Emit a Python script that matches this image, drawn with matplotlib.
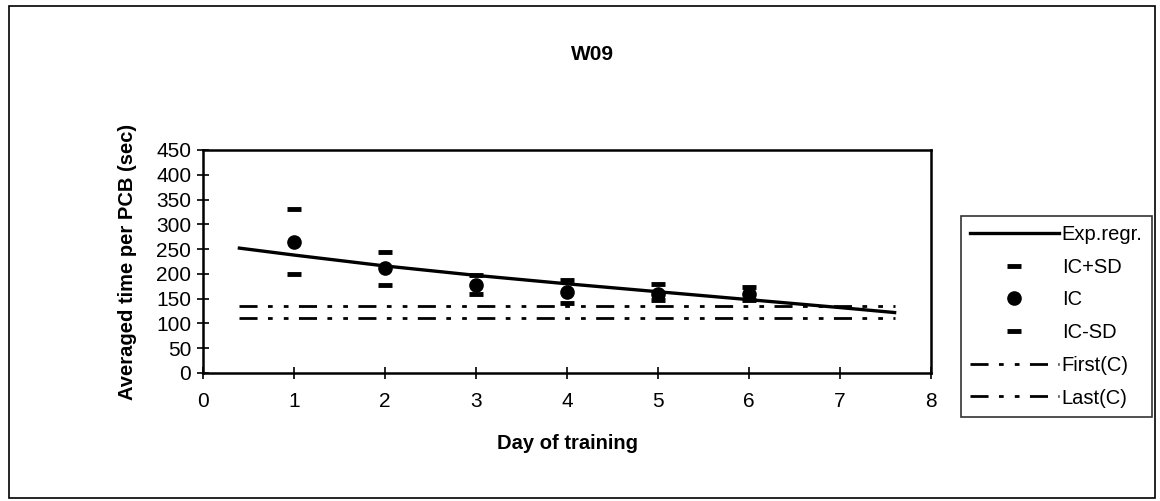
import matplotlib
matplotlib.use("Agg")
import matplotlib.pyplot as plt
from matplotlib.patches import Rectangle

# ---- Daten ----
days = [1, 2, 3, 4, 5, 6]
ic = [265, 211, 178, 164, 159, 160]
ic_plus_sd = [331, 244, 198, 187, 179, 174]
ic_minus_sd = [199, 177, 160, 142, 147, 147]

regr_x = [0.4, 1, 2, 3, 4, 5, 6, 7, 7.6]
regr_y = [252, 238, 216, 197, 180, 164, 148, 132, 122]

ctrl_x = [0.4, 7.6]
first_c = [135, 135]
last_c = [110, 110]

x_ticks = [0, 1, 2, 3, 4, 5, 6, 7, 8]
y_ticks = [0, 50, 100, 150, 200, 250, 300, 350, 400, 450]

# ---- Stil ----
plt.rcParams["font.family"] = ["Liberation Sans", "DejaVu Sans"]
plt.rcParams["lines.scale_dashes"] = False
dash_dot_dot = (0, (13, 7.5, 3.4, 8, 3.4, 7.5))

fig = plt.figure(figsize=(11.6, 5.01), dpi=100)
ax = fig.add_axes([0.175, 0.2555, 0.6276, 0.4451])

ax.plot(regr_x, regr_y, color="black", lw=2.4, label="Exp.regr.")
ax.plot(days, ic_plus_sd, ls="none", marker="_", ms=10, mew=3.5,
        color="black", label="IC+SD")
ax.plot(days, ic, ls="none", marker="o", ms=9.5, color="black", label="IC")
ax.plot(days, ic_minus_sd, ls="none", marker="_", ms=10, mew=3.5,
        color="black", label="IC-SD")
ax.plot(ctrl_x, first_c, color="black", lw=2, linestyle=dash_dot_dot,
        label="First(C)")
ax.plot(ctrl_x, last_c, color="black", lw=2, linestyle=dash_dot_dot,
        label="Last(C)")

ax.set_xlim(0, 8)
ax.set_ylim(0, 450)
ax.set_xticks(x_ticks)
ax.set_yticks(y_ticks)
ax.tick_params(direction="inout", length=9, width=1.2, labelsize=15, colors="black")
ax.tick_params(axis="x", pad=9)
ax.tick_params(axis="y", pad=4)
for s in ax.spines.values():
    s.set_linewidth(1.8)
    s.set_color("black")

ax.set_xlabel("Day of training", fontsize=14.5, fontweight="bold", labelpad=17)
ax.set_ylabel("Averaged time per PCB (sec)", fontsize=14.5, fontweight="bold", labelpad=14)

fig.text(592 / 1160, 1 - 55 / 501, "W09", fontsize=15, fontweight="bold",
         ha="center", va="center")

leg = ax.legend(loc="upper left", bbox_to_anchor=(961 / 1160, 1 - 216 / 501),
                bbox_transform=fig.transFigure, fontsize=14.5, frameon=True,
                fancybox=False, handlelength=4.4, handletextpad=0.15,
                labelspacing=0.68, borderpad=0.45, borderaxespad=0)
leg.get_frame().set_edgecolor("black")
leg.get_frame().set_linewidth(1.2)

# Rahmen um das ganze Diagramm
fig.patches.append(Rectangle((9 / 1160, 3 / 501), 1146 / 1160, 492 / 501,
                             transform=fig.transFigure, fill=False,
                             edgecolor="black", lw=1.2))

fig.savefig("out.png", dpi=100)
